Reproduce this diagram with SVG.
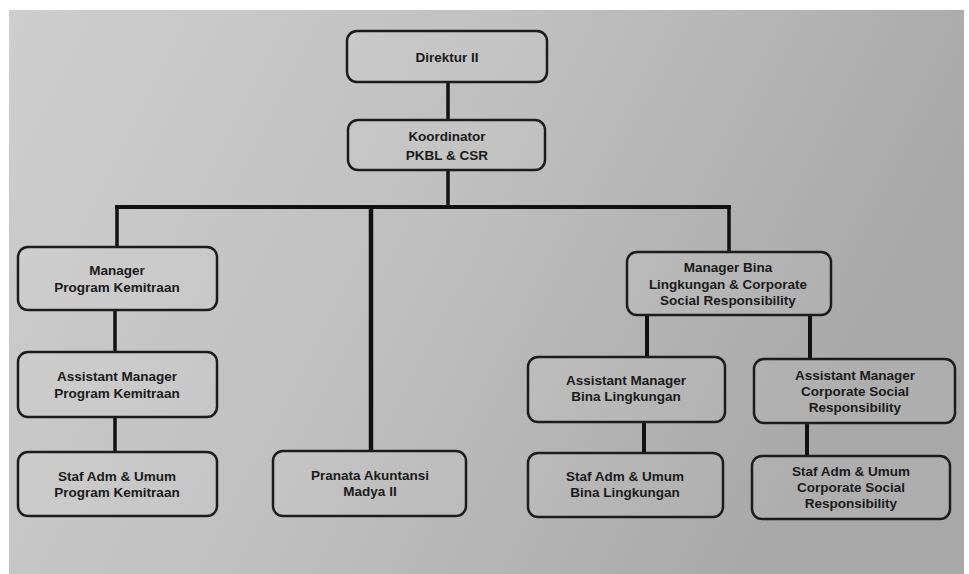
<svg xmlns="http://www.w3.org/2000/svg" width="969" height="574" viewBox="0 0 969 574">
<defs>
<linearGradient id="bg" x1="0" y1="0" x2="1" y2="0.3">
<stop offset="0" stop-color="#cecece"/>
<stop offset="0.5" stop-color="#c0c0c0"/>
<stop offset="1" stop-color="#a9a8a9"/>
</linearGradient>
<style>
.box{fill:#ffffff;fill-opacity:0.07;stroke:#1c1c1c;stroke-width:2.5}
.t{font-family:"Liberation Sans",Arial,sans-serif;font-weight:bold;font-size:13.5px;fill:#1a1a1a;text-anchor:middle}
.c{stroke:#111;stroke-width:3.5;fill:none}
</style>
</defs>
<rect width="969" height="574" fill="#ffffff"/>
<rect x="9" y="10" width="955" height="564" fill="url(#bg)"/>
<g id="connectors">
<line class="c" x1="448" y1="82" x2="448" y2="120"/>
<line class="c" x1="448" y1="170" x2="448" y2="207"/>
<line class="c" x1="115" y1="207" x2="731" y2="207" style="stroke-width:4"/>
<line class="c" x1="117" y1="207" x2="117" y2="247"/>
<line class="c" x1="371" y1="207" x2="371" y2="451" style="stroke-width:4.5"/>
<line class="c" x1="729" y1="205" x2="729" y2="252"/>
<line class="c" x1="115" y1="310" x2="115" y2="352"/>
<line class="c" x1="115" y1="417" x2="115" y2="452"/>
<line class="c" x1="647" y1="315" x2="647" y2="357" style="stroke-width:4"/>
<line class="c" x1="810" y1="315" x2="810" y2="359" style="stroke-width:4"/>
<line class="c" x1="644" y1="422" x2="644" y2="453" style="stroke-width:4"/>
<line class="c" x1="807" y1="423" x2="807" y2="456" style="stroke-width:4"/>
</g>
<g id="direktur">
<rect class="box" x="347" y="31" width="200" height="51" rx="10"/>
<text class="t" x="447" y="62">Direktur II</text>
</g>
<g id="koordinator">
<rect class="box" x="348" y="120" width="197" height="50" rx="10"/>
<text class="t" x="447" y="141">Koordinator</text>
<text class="t" x="447" y="160">PKBL &amp; CSR</text>
</g>
<g id="manager-pk">
<rect class="box" x="18" y="247" width="199" height="63" rx="10"/>
<text class="t" x="117" y="275">Manager</text>
<text class="t" x="117" y="292">Program Kemitraan</text>
</g>
<g id="asst-pk">
<rect class="box" x="18" y="352" width="199" height="65" rx="10"/>
<text class="t" x="117" y="381">Assistant Manager</text>
<text class="t" x="117" y="398">Program Kemitraan</text>
</g>
<g id="staf-pk">
<rect class="box" x="18" y="452" width="199" height="64" rx="10"/>
<text class="t" x="117" y="481">Staf Adm &amp; Umum</text>
<text class="t" x="117" y="497">Program Kemitraan</text>
</g>
<g id="pranata">
<rect class="box" x="273" y="451" width="193" height="65" rx="10"/>
<text class="t" x="370" y="480">Pranata Akuntansi</text>
<text class="t" x="370" y="496">Madya II</text>
</g>
<g id="manager-bina">
<rect class="box" x="627" y="252" width="204" height="63" rx="10"/>
<text class="t" x="728" y="272">Manager Bina</text>
<text class="t" x="728" y="289">Lingkungan &amp; Corporate</text>
<text class="t" x="728" y="305">Social Responsibility</text>
</g>
<g id="asst-bina">
<rect class="box" x="528" y="357" width="197" height="65" rx="10"/>
<text class="t" x="626" y="385">Assistant Manager</text>
<text class="t" x="626" y="401">Bina Lingkungan</text>
</g>
<g id="asst-csr">
<rect class="box" x="754" y="359" width="201" height="64" rx="10"/>
<text class="t" x="855" y="380">Assistant Manager</text>
<text class="t" x="855" y="396">Corporate Social</text>
<text class="t" x="855" y="412">Responsibility</text>
</g>
<g id="staf-bina">
<rect class="box" x="528" y="453" width="195" height="64" rx="10"/>
<text class="t" x="625" y="481">Staf Adm &amp; Umum</text>
<text class="t" x="625" y="497">Bina Lingkungan</text>
</g>
<g id="staf-csr">
<rect class="box" x="752" y="456" width="198" height="63" rx="10"/>
<text class="t" x="851" y="476">Staf Adm &amp; Umum</text>
<text class="t" x="851" y="492">Corporate Social</text>
<text class="t" x="851" y="508">Responsibility</text>
</g>
</svg>
